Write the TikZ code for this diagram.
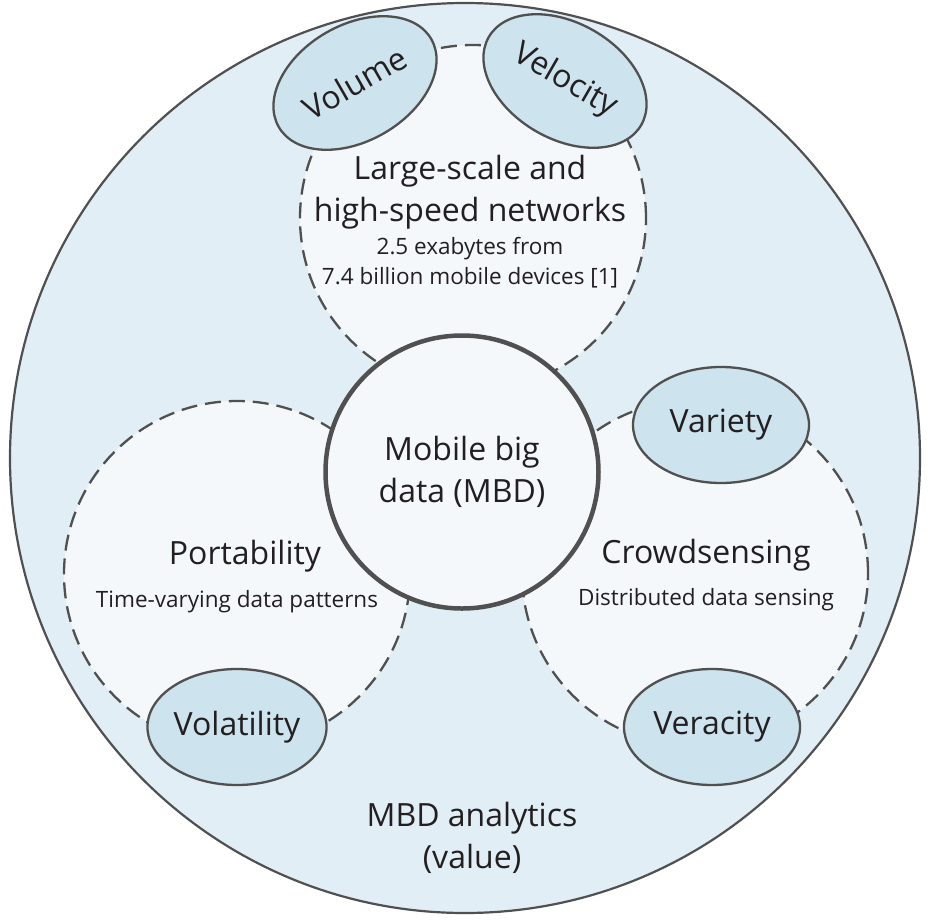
\documentclass[tikz,border=0pt]{standalone}
\usepackage{fontspec}
\setmainfont{Open Sans}
\usetikzlibrary{shapes.geometric}
\definecolor{outerblue}{HTML}{E1EEF5}
\definecolor{paleblue}{HTML}{F4F8FB}
\definecolor{vblue}{HTML}{CDE3EE}
\definecolor{edgegray}{HTML}{505050}
\definecolor{inkgray}{HTML}{231F20}
\tikzset{
  area/.style={circle,draw=edgegray,fill=paleblue,line width=2.3pt,
    dash pattern=on 16pt off 8pt,minimum size=346pt,inner sep=0pt},
  vbox/.style={ellipse,draw=edgegray,fill=vblue,line width=2.3pt,
    minimum width=176pt,minimum height=116pt,inner sep=0pt,
    font=\fontsize{32}{36}\selectfont,text=inkgray},
  bigtext/.style={align=center,font=\fontsize{32}{42}\selectfont,text=inkgray},
  smalltext/.style={align=center,font=\fontsize{22.5}{30}\selectfont,text=inkgray}
}
\begin{document}
\begin{tikzpicture}[x=1pt,y=-1pt]
  \useasboundingbox (0,0) rectangle (943,922);
  %%%% the analytics disc
  \node[circle,draw=edgegray,fill=outerblue,line width=2.2pt,minimum size=910pt,inner sep=0pt]
    (analytics) at (465,458) {};
  \node[bigtext] (value) at (472,838) {MBD analytics\\(value)};
  %%%% the three dashed areas
  \node[area] (networks) at (473,218) {};
  \node[area] (portability) at (237,574) {};
  \node[area] (crowd) at (695,573) {};
  %% their texts
  \node[bigtext] (netstitle) at (470,192) {Large-scale and\\high-speed networks};
  \node[smalltext] (netsnote) at (470,263) {2.5 exabytes from\\7.4 billion mobile devices [1]};
  \node[bigtext] (porttitle) at (245,556) {Portability};
  \node[smalltext] (portnote) at (237,602) {Time-varying data patterns};
  \node[bigtext] (crowdtitle) at (706,555) {Crowdsensing};
  \node[smalltext] (crowdnote) at (706,600) {Distributed data sensing};
  %%%% the core
  \node[circle,draw=edgegray,fill=paleblue,line width=4.5pt,minimum size=273pt,
    inner sep=0pt,bigtext] (mbd) at (462,472) {Mobile big\\data (MBD)};
  %%%% the V's
  \node[vbox,rotate=30] (volume) at (355,83) {Volume};
  \node[vbox,rotate=-30] (velocity) at (565,81) {Velocity};
  \node[vbox] (variety) at (721,425) {Variety};
  \node[vbox] (veracity) at (712,727) {Veracity};
  \node[vbox] (volatility) at (237,727) {Volatility};
\end{tikzpicture}
\end{document}
